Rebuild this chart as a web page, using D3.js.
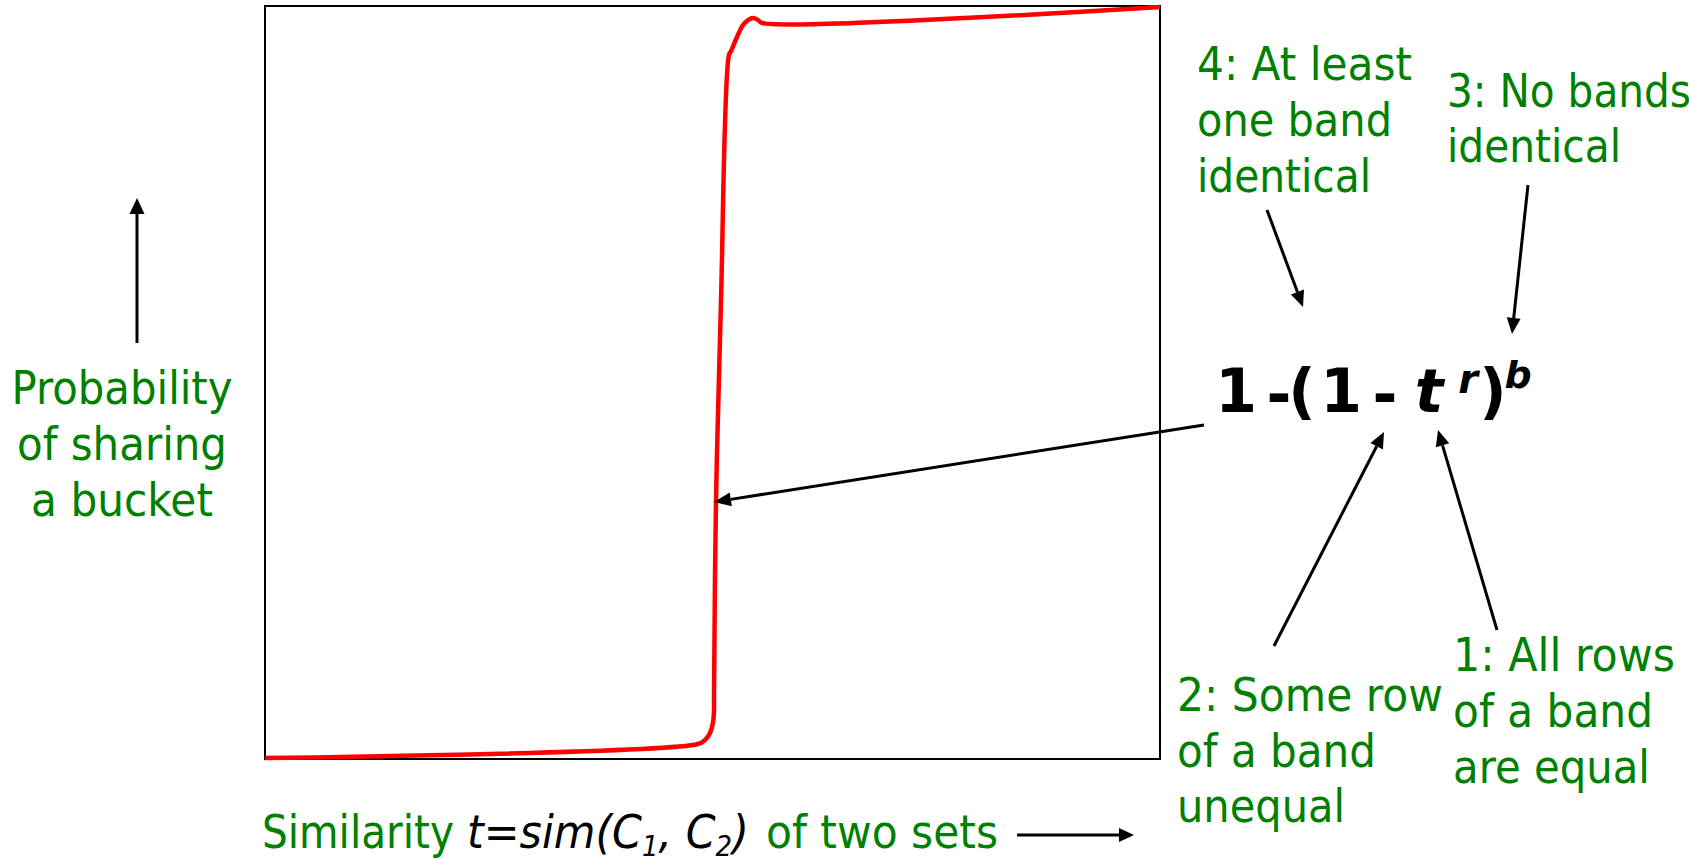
<!DOCTYPE html>
<html>
<head>
<meta charset="utf-8">
<script src="https://cdn.jsdelivr.net/npm/d3@7"></script>
<style>
  html, body { margin: 0; padding: 0; background: #fff; }
  svg { display: block; }
  text { font-family: "DejaVu Sans", Verdana, sans-serif; }
</style>
</head>
<body>
<svg id="chart" width="1689" height="859"></svg>
<script>
// S-curve of the banding technique: probability that two sets share a bucket
// as a function of their similarity t.
const simT = [0, 0.4838, 0.4916, 0.4972, 0.5006, 0.5017, 0.5017, 0.5039, 0.5095,
              0.5184, 0.5207, 0.5274, 0.5341, 0.5397, 0.5453, 0.5508, 0.5553, 1];
const shareProb = [0.0013, 0.0199, 0.0252, 0.0345, 0.0491, 0.0651, 0.0850, 0.3413, 0.6096,
                   0.9349, 0.9402, 0.9588, 0.9748, 0.9814, 0.9841, 0.9814, 0.9774, 0.9987];
// point on the curve the formula arrow points at
const pointerIndex = 7;

const yLabelLines = ["Probability", "of sharing", "a bucket"];
const note4 = ["4: At least", "one band", "identical"];
const note3 = ["3: No bands", "identical"];
const note2 = ["2: Some row", "of a band", "unequal"];
const note1 = ["1: All rows", "of a band", "are equal"];

const GREEN = "#008000";
const RED = "#ff0000";
const FS = 46;        // annotation font size

const svg = d3.select("#chart");

const x = d3.scaleLinear().domain([0, 1]).range([265, 1160]);
const y = d3.scaleLinear().domain([0, 1]).range([759, 6]);

// plot frame
svg.append("rect")
  .attr("x", x(0)).attr("y", y(1))
  .attr("width", x(1) - x(0)).attr("height", y(0) - y(1))
  .attr("fill", "none").attr("stroke", "#000").attr("stroke-width", 2);

// curve
const pts = simT.map((t, i) => [t, shareProb[i]]);
svg.append("path")
  .datum(pts)
  .attr("fill", "none")
  .attr("stroke", RED)
  .attr("stroke-width", 4.5)
  .attr("stroke-linejoin", "round")
  .attr("d", d3.line().x(d => x(d[0])).y(d => y(d[1])).curve(d3.curveCatmullRom.alpha(0.5)));

// arrow: straight shaft plus filled triangular head at (x2, y2)
function arrow(x1, y1, x2, y2, opts = {}) {
  const w = opts.width || 3, hl = opts.headLen || 16, hw = opts.headWidth || 14;
  const a = Math.atan2(y2 - y1, x2 - x1);
  const bx = x2 - hl * Math.cos(a), by = y2 - hl * Math.sin(a);
  const g = svg.append("g");
  g.append("line")
    .attr("x1", x1).attr("y1", y1).attr("x2", bx).attr("y2", by)
    .attr("stroke", "#000").attr("stroke-width", w);
  const px = -Math.sin(a) * hw / 2, py = Math.cos(a) * hw / 2;
  g.append("polygon")
    .attr("points", [[x2, y2], [bx + px, by + py], [bx - px, by - py]].map(p => p.join(",")).join(" "))
    .attr("fill", "#000");
}

// multi-line green text block; each line is fitted to its set width
function block(x0, y0, lines, widths, lh, anchor = "start") {
  lines.forEach((s, i) => {
    svg.append("text")
      .attr("x", x0).attr("y", y0 + i * lh)
      .attr("text-anchor", anchor)
      .attr("font-size", FS)
      .attr("fill", GREEN)
      .attr("textLength", widths[i])
      .attr("lengthAdjust", "spacingAndGlyphs")
      .text(s);
  });
}

// y-axis title and arrow
block(122, 404, yLabelLines, [221, 210, 182], 56, "middle");
arrow(137, 343, 137, 198, { headLen: 16, headWidth: 15 });

// x-axis title
svg.append("text")
  .attr("x", 262).attr("y", 848)
  .attr("font-size", FS).attr("fill", GREEN)
  .attr("textLength", 192).attr("lengthAdjust", "spacingAndGlyphs")
  .text("Similarity");
const it = svg.append("text")
  .attr("transform", "translate(467,848) scale(0.93,1)")
  .attr("font-size", FS).attr("font-style", "italic").attr("fill", "#000");
it.append("tspan").text("t=sim(C");
it.append("tspan").attr("font-size", 28).attr("dy", 8).text("1");
it.append("tspan").attr("dy", -8).text(", C");
it.append("tspan").attr("font-size", 28).attr("dy", 8).text("2");
it.append("tspan").attr("dy", -8).text(")");
svg.append("text")
  .attr("x", 766).attr("y", 848)
  .attr("font-size", FS).attr("fill", GREEN)
  .attr("textLength", 232).attr("lengthAdjust", "spacingAndGlyphs")
  .text("of two sets");
arrow(1017, 835, 1134, 835, { headLen: 15, headWidth: 14 });

// formula 1 -(1 - t^r)^b, placed glyph by glyph
const formula = [
  { s: "1", cx: 1236, y: 412, fs: 60 },
  { s: "-", cx: 1279, y: 415, fs: 60 },
  { s: "(", cx: 1302, y: 412, fs: 60 },
  { s: "1", cx: 1341, y: 412, fs: 60 },
  { s: "-", cx: 1385, y: 415, fs: 60 },
  { s: "t", cx: 1429, y: 412, fs: 60, it: true },
  { s: "r", cx: 1468, y: 393, fs: 40, it: true },
  { s: ")", cx: 1493, y: 412, fs: 60 },
  { s: "b", cx: 1518, y: 388, fs: 38, it: true }
];
formula.forEach(f => {
  svg.append("text")
    .attr("x", f.cx).attr("y", f.y)
    .attr("text-anchor", "middle")
    .attr("font-size", f.fs)
    .attr("font-weight", "bold")
    .attr("font-style", f.it ? "italic" : "normal")
    .attr("fill", "#000")
    .text(f.s);
});

// pointer from the formula to the curve
const tip = pts[pointerIndex];
arrow(1204, 425, x(tip[0]) - 2, y(tip[1]), { headLen: 17, headWidth: 14 });

// numbered notes and their arrows
block(1197, 80, note4, [215, 195, 174], 56);
arrow(1267, 210, 1303, 307);
block(1447, 107, note3, [244, 174], 55);
arrow(1528, 185, 1512, 334);
block(1177, 711, note2, [266, 199, 168], 55.5);
arrow(1274, 646, 1384, 432);
block(1453, 671, note1, [222, 200, 197], 56);
arrow(1497, 630, 1438, 430);
</script>
</body>
</html>
